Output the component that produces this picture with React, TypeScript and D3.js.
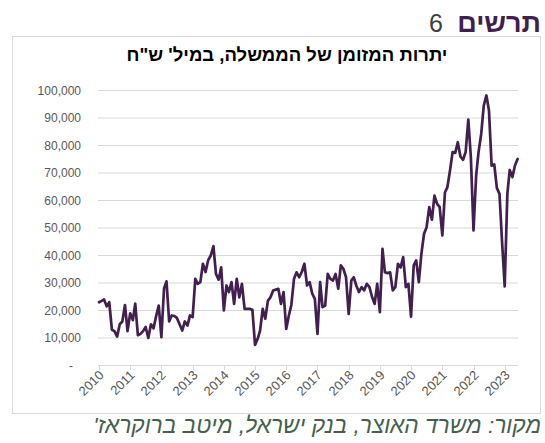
import React from 'react';
import * as d3 from 'd3';

// Government cash balance, NIS millions, monthly (Jan 2010 – Jun 2023)
const v2010 = [23000, 23500, 24000, 21500, 23000, 13000, 12500, 10500, 15000, 16000, 22000, 12500];
const v2011 = [19000, 16500, 22500, 11000, 11500, 12500, 14000, 10000, 15000, 13500, 18000, 21800];
const v2012 = [10300, 28000, 30600, 16000, 18200, 18000, 17300, 15000, 12700, 16000, 14500, 18200];
const v2013 = [17600, 31500, 29700, 30300, 37000, 34000, 38200, 40000, 43400, 33300, 31200, 35700];
const v2014 = [20000, 29100, 26700, 30300, 22400, 31500, 24800, 29700, 20600, 20600, 20600, 20300];
const v2015 = [7500, 9700, 12700, 20600, 17000, 23600, 24800, 27300, 27600, 27900, 22400, 26700];
const v2016 = [13300, 18200, 22000, 31500, 33900, 32100, 34000, 37000, 29100, 30300, 26100, 24200];
const v2017 = [11500, 30300, 21200, 21800, 33300, 31500, 30900, 33300, 27900, 36400, 35100, 32100];
const v2018 = [18800, 30900, 32100, 29000, 26700, 28500, 27300, 29700, 28500, 25000, 22400, 29700];
const v2019 = [19400, 42400, 33900, 33600, 33900, 27300, 28500, 37000, 35700, 39400, 28500, 29700];
const v2020 = [17800, 36400, 38200, 30300, 40600, 47900, 50300, 57600, 53000, 61800, 58800, 57600];
const v2021 = [47300, 63000, 64800, 70900, 77600, 77300, 81200, 76000, 74800, 77600, 89400, 75800];
const v2022 = [49100, 69100, 77600, 84200, 94500, 98200, 92700, 72700, 73100, 64600, 62400, 45000];
const v2023 = [28800, 62400, 71100, 68500, 72700, 75100];

const yTicks = [0, 10000, 20000, 30000, 40000, 50000, 60000, 70000, 80000, 90000, 100000];
const years = [2010, 2011, 2012, 2013, 2014, 2015, 2016, 2017, 2018, 2019, 2020, 2021, 2022, 2023];

const chartTitle = 'יתרות המזומן של הממשלה, במיל\' ש"ח';
const figureWord = 'תרשים';
const figureNum = '6';
const source = 'מקור: משרד האוצר, בנק ישראל, מיטב ברוקראז\'';

const W = 545;
const H = 443;
const font = 'Arial, "Liberation Sans", sans-serif';
const lineColor = '#41204f';
const labelColor = '#595959';
const gridColor = '#d9d9d9';

const values = [
  ...v2010, ...v2011, ...v2012, ...v2013, ...v2014, ...v2015, ...v2016,
  ...v2017, ...v2018, ...v2019, ...v2020, ...v2021, ...v2022, ...v2023,
];
const dates = d3.timeMonth.range(new Date(2010, 0, 1), new Date(2010, values.length, 1));
const data = values.map((v, i) => ({ date: dates[i], v }));

const App: React.FC = () => {
  const x = d3.scaleTime()
    .domain([new Date(2010, 0, 1), new Date(2023, 5, 1)])
    .range([99, 517.6]);
  const y = d3.scaleLinear().domain([0, 100000]).range([365.5, 90.5]);

  const line = d3.line<{ date: Date; v: number }>()
    .x(d => x(d.date))
    .y(d => y(d.v));

  const fmt = d3.format(',');

  return (
    <div style={{ position: 'absolute', left: 0, top: 0 }}>
      <svg width={W} height={H} style={{ display: 'block', background: '#fff' }}>
        {/* figure heading */}
        <text x={541} y={32} direction="rtl" textAnchor="start" fontFamily={font}
          fontSize={27} fontWeight="bold" fill="#3f1f4e">{figureWord}</text>
        <text x={443} y={32} textAnchor="end" fontFamily={font} fontSize={25} fill="#404040">{figureNum}</text>

        {/* chart frame */}
        <rect x={12.5} y={36.5} width={528} height={377} fill="#fff" stroke={gridColor} />

        <text x={287} y={61} direction="rtl" textAnchor="middle" fontFamily={font}
          fontSize={18.5} fontWeight="bold" fill="#000">{chartTitle}</text>

        {/* grid + y axis */}
        {yTicks.map(t => (
          <g key={t}>
            <line x1={98} x2={518} y1={y(t)} y2={y(t)} stroke={gridColor} strokeWidth={1} />
            <text x={t === 0 ? 73 : 81} y={y(t) + 4} textAnchor="end" fontFamily={font}
              fontSize={12} fill={labelColor}>{t === 0 ? '-' : fmt(t)}</text>
          </g>
        ))}

        {/* x axis ticks + labels */}
        {years.map(yr => {
          const xp = Math.round(x(new Date(yr, 0, 1))) + 0.5;
          return (
            <g key={yr}>
              <line x1={xp} x2={xp} y1={365.5} y2={370} stroke={gridColor} />
              <text transform={`translate(${xp + 5},${376}) rotate(-45)`} textAnchor="end"
                fontFamily={font} fontSize={13} fill={labelColor}>{yr}</text>
            </g>
          );
        })}

        <path d={line(data) ?? ''} fill="none" stroke={lineColor} strokeWidth={2.7}
          strokeLinejoin="round" strokeLinecap="round" />

        {/* source */}
        <text x={541} y={433} direction="rtl" textAnchor="start" fontFamily={font}
          fontSize={22.7} fontStyle="italic" fill="#46604e">{source}</text>
      </svg>
    </div>
  );
};

export default App;
